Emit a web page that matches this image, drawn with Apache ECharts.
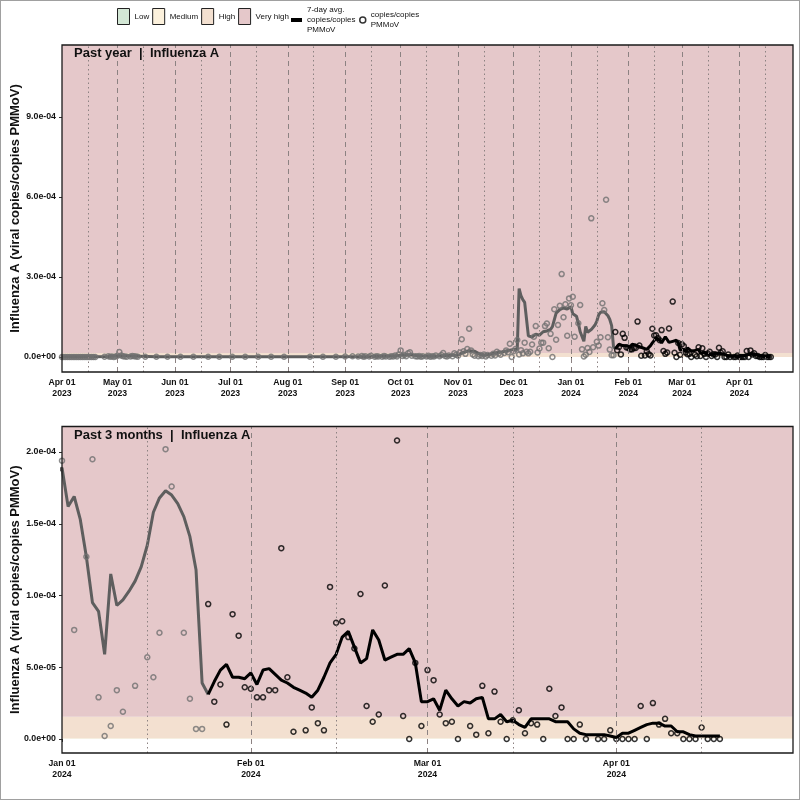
<!DOCTYPE html>
<html style="height: 100%">
<head>
<meta charset="utf-8">
</head>
<body style="height: 100%; margin: 0; background: #fff">
<div id="container" style="width: 800px; height: 800px; box-sizing: border-box; border: 1px solid #a0a0a0"></div>
<script type="text/javascript" src="https://cdn.jsdelivr.net/npm/echarts@6/dist/echarts.min.js"></script>
<script type="text/javascript">
// values are in units of 1e-5 viral copies / copies PMMoV
var UNIT = 1e-5;

var AVG_NAME = '7-day avg.\ncopies/copies\nPMMoV';
var PTS_NAME = 'copies/copies\nPMMoV';

var bandNames = ['Low', 'Medium', 'High', 'Very high'];
var bandColors = ['#d3e7d5', '#fcf1dc', '#f3e0d0', '#e5c8ca'];
var bandEdges = [0, 0.01, 0.05, 1.55]; // lower edge of each band

// month ticks
var yearTicks = ['2023-04-01', '2023-05-01', '2023-06-01', '2023-07-01', '2023-08-01', '2023-09-01',
  '2023-10-01', '2023-11-01', '2023-12-01', '2024-01-01', '2024-02-01', '2024-03-01', '2024-04-01'];
var yearMid = ['2023-04-15', '2023-05-15', '2023-06-15', '2023-07-15', '2023-08-15', '2023-09-15',
  '2023-10-15', '2023-11-15', '2023-12-15', '2024-01-15', '2024-02-15', '2024-03-15', '2024-04-15'];
var qTicks = ['2024-01-01', '2024-02-01', '2024-03-01', '2024-04-01'];
var qMid = ['2024-01-15', '2024-02-15', '2024-03-15', '2024-04-15'];

var yearYTicks = [0, 30, 60, 90];
var qYTicks = [0, 5, 10, 15, 20];

// samples before the latest period (gray)
var grayPts = [
  ['2023-04-01', 0], ['2023-04-02', 0], ['2023-04-03', 0], ['2023-04-04', 0], ['2023-04-05', 0],
  ['2023-04-06', 0], ['2023-04-07', 0], ['2023-04-08', 0], ['2023-04-09', 0], ['2023-04-10', 0],
  ['2023-04-11', 0], ['2023-04-12', 0], ['2023-04-13', 0], ['2023-04-14', 0], ['2023-04-15', 0],
  ['2023-04-16', 0], ['2023-04-17', 0], ['2023-04-18', 0], ['2023-04-19', 0],
  ['2023-04-24', 0.1], ['2023-04-26', 0.3], ['2023-04-27', 0.1], ['2023-04-28', 0.2], ['2023-04-29', 0],
  ['2023-04-30', 0.2], ['2023-05-01', 0.5], ['2023-05-02', 1.9], ['2023-05-03', 0.6], ['2023-05-04', 0.3],
  ['2023-05-05', 0.2], ['2023-05-06', 0.1], ['2023-05-08', 0.2], ['2023-05-09', 0.4], ['2023-05-10', 0.3],
  ['2023-05-11', 0.2], ['2023-05-12', 0.1],
  ['2023-05-16', 0.1], ['2023-05-22', 0.1], ['2023-05-28', 0.1], ['2023-06-04', 0.1], ['2023-06-11', 0.1],
  ['2023-06-19', 0.1], ['2023-06-25', 0.1], ['2023-07-02', 0.1], ['2023-07-09', 0.1], ['2023-07-16', 0.1],
  ['2023-07-23', 0.1], ['2023-07-30', 0.1], ['2023-08-13', 0.1], ['2023-08-20', 0.1], ['2023-08-27', 0.1],
  ['2023-09-01', 0.2], ['2023-09-05', 0.3], ['2023-09-08', 0.2], ['2023-09-10', 0.4], ['2023-09-11', 0.1],
  ['2023-09-12', 0.3], ['2023-09-14', 0.2], ['2023-09-15', 0.5], ['2023-09-17', 0.1], ['2023-09-18', 0.3],
  ['2023-09-19', 0.2], ['2023-09-21', 0.1], ['2023-09-22', 0.4], ['2023-09-23', 0.2], ['2023-09-25', 0.1],
  ['2023-09-26', 0.3], ['2023-09-27', 0.2], ['2023-09-28', 0.6], ['2023-09-29', 0.2], ['2023-09-30', 1.0],
  ['2023-10-01', 2.5], ['2023-10-02', 0.4], ['2023-10-03', 0.8], ['2023-10-04', 0.3], ['2023-10-05', 1.4],
  ['2023-10-06', 1.8], ['2023-10-07', 0.5], ['2023-10-09', 0.3], ['2023-10-10', 0.2], ['2023-10-11', 0.4],
  ['2023-10-12', 0.1], ['2023-10-13', 0.3], ['2023-10-15', 0.2], ['2023-10-16', 0.5], ['2023-10-17', 0.1],
  ['2023-10-18', 0.3], ['2023-10-19', 0.2], ['2023-10-20', 0.6], ['2023-10-22', 0.3], ['2023-10-23', 0.8],
  ['2023-10-24', 1.5], ['2023-10-25', 0.4], ['2023-10-26', 0.2], ['2023-10-27', 0.6], ['2023-10-29', 0.3],
  ['2023-10-30', 1.4], ['2023-10-31', 0.9], ['2023-11-01', 0.5], ['2023-11-02', 1.7], ['2023-11-03', 6.7],
  ['2023-11-04', 2.2], ['2023-11-05', 1.2], ['2023-11-06', 3.0], ['2023-11-07', 10.6], ['2023-11-08', 2.5],
  ['2023-11-09', 1.0], ['2023-11-10', 0.5], ['2023-11-12', 0.3], ['2023-11-13', 0.8], ['2023-11-14', 0.4],
  ['2023-11-15', 1.0], ['2023-11-16', 0.2], ['2023-11-17', 0.8], ['2023-11-19', 0.5], ['2023-11-20', 1.2],
  ['2023-11-21', 0.6], ['2023-11-22', 2.0], ['2023-11-23', 1.4], ['2023-11-24', 0.9], ['2023-11-26', 1.5],
  ['2023-11-27', 2.5], ['2023-11-28', 1.8], ['2023-11-29', 5.0], ['2023-11-30', 0], ['2023-12-01', 2.2],
  ['2023-12-02', 3.0], ['2023-12-03', 6.4], ['2023-12-04', 1.0], ['2023-12-05', 2.6], ['2023-12-06', 1.4],
  ['2023-12-07', 5.4], ['2023-12-08', 2.0], ['2023-12-09', 1.4], ['2023-12-10', 2.0], ['2023-12-11', 4.7],
  ['2023-12-12', 7.6], ['2023-12-13', 11.6], ['2023-12-14', 1.7], ['2023-12-15', 3.2], ['2023-12-16', 5.4],
  ['2023-12-17', 5.4], ['2023-12-18', 11.6], ['2023-12-19', 12.6], ['2023-12-20', 3.3], ['2023-12-21', 8.7],
  ['2023-12-22', 0], ['2023-12-23', 17.9], ['2023-12-24', 6.5], ['2023-12-25', 12.0], ['2023-12-26', 19.2],
  ['2023-12-27', 31.1], ['2023-12-28', 14.9], ['2023-12-29', 19.8], ['2023-12-30', 8.0], ['2023-12-31', 22.0],
  ['2024-01-01', 19.4], ['2024-01-02', 22.6], ['2024-01-03', 7.6], ['2024-01-05', 12.7], ['2024-01-06', 19.5],
  ['2024-01-07', 2.9], ['2024-01-08', 0.2], ['2024-01-09', 0.9], ['2024-01-10', 3.4], ['2024-01-11', 1.9],
  ['2024-01-12', 52.0], ['2024-01-13', 3.7], ['2024-01-15', 5.7], ['2024-01-16', 4.3], ['2024-01-17', 7.4],
  ['2024-01-18', 20.2], ['2024-01-19', 17.6], ['2024-01-20', 59.0], ['2024-01-21', 7.4], ['2024-01-22', 2.8],
  ['2024-01-23', 0.7], ['2024-01-24', 0.7]
];

var grayAvg = [
  ['2023-04-01', 0.1], ['2023-04-19', 0.1], ['2023-04-26', 0.2], ['2023-05-02', 0.5], ['2023-05-12', 0.3],
  ['2023-05-22', 0.1], ['2023-08-27', 0.1], ['2023-09-15', 0.2], ['2023-09-28', 0.4], ['2023-10-02', 0.8],
  ['2023-10-06', 0.9], ['2023-10-12', 0.4], ['2023-10-20', 0.3], ['2023-10-26', 0.6], ['2023-11-01', 0.8],
  ['2023-11-04', 1.8], ['2023-11-07', 2.4], ['2023-11-10', 2.2], ['2023-11-13', 1.0], ['2023-11-17', 0.9],
  ['2023-11-21', 1.5], ['2023-11-25', 2.0], ['2023-11-29', 2.6], ['2023-12-03', 3.0], ['2023-12-04', 25.7],
  ['2023-12-05', 23.0], ['2023-12-06', 21.5], ['2023-12-07', 20.5], ['2023-12-08', 20.0], ['2023-12-09', 8.0],
  ['2023-12-11', 7.5], ['2023-12-13', 8.6], ['2023-12-15', 8.2], ['2023-12-17', 9.5], ['2023-12-19', 9.8],
  ['2023-12-21', 10.4], ['2023-12-22', 11.4], ['2023-12-24', 16.5], ['2023-12-26', 17.8], ['2023-12-28', 18.4],
  ['2023-12-30', 18.0], ['2023-12-31', 18.5],
  ['2024-01-01', 18.9], ['2024-01-02', 16.2], ['2024-01-03', 16.9], ['2024-01-04', 15.3], ['2024-01-05', 12.7],
  ['2024-01-06', 9.5], ['2024-01-07', 8.9], ['2024-01-08', 5.9], ['2024-01-09', 11.5], ['2024-01-10', 9.3],
  ['2024-01-11', 9.7], ['2024-01-12', 10.3], ['2024-01-13', 11.0], ['2024-01-14', 12.0], ['2024-01-15', 13.5],
  ['2024-01-16', 15.8], ['2024-01-17', 16.8], ['2024-01-18', 17.3], ['2024-01-19', 17.0], ['2024-01-20', 16.4],
  ['2024-01-21', 15.5], ['2024-01-22', 14.1], ['2024-01-23', 11.8], ['2024-01-24', 3.9], ['2024-01-25', 3.1]
];

// latest period (black)
var blackPts = [
  ['2024-01-25', 9.4], ['2024-01-26', 2.6], ['2024-01-27', 3.8], ['2024-01-28', 1.0], ['2024-01-29', 8.7],
  ['2024-01-30', 7.2], ['2024-01-31', 3.6], ['2024-02-01', 3.5], ['2024-02-02', 2.9], ['2024-02-03', 2.9],
  ['2024-02-04', 3.4], ['2024-02-05', 3.4], ['2024-02-06', 13.3], ['2024-02-07', 4.3], ['2024-02-08', 0.5],
  ['2024-02-10', 0.6], ['2024-02-11', 2.2], ['2024-02-12', 1.1], ['2024-02-13', 0.6], ['2024-02-14', 10.6],
  ['2024-02-15', 8.1], ['2024-02-16', 8.2], ['2024-02-17', 7.1], ['2024-02-18', 6.3], ['2024-02-19', 10.1],
  ['2024-02-20', 2.3], ['2024-02-21', 1.2], ['2024-02-22', 1.7], ['2024-02-23', 10.7], ['2024-02-25', 20.8],
  ['2024-02-26', 1.6], ['2024-02-27', 0], ['2024-02-28', 5.3], ['2024-02-29', 0.9], ['2024-03-01', 4.8],
  ['2024-03-02', 4.1], ['2024-03-03', 1.7], ['2024-03-04', 1.1], ['2024-03-05', 1.2], ['2024-03-06', 0],
  ['2024-03-08', 0.9], ['2024-03-09', 0.3], ['2024-03-10', 3.7], ['2024-03-11', 0.4], ['2024-03-12', 3.3],
  ['2024-03-13', 1.2], ['2024-03-14', 0], ['2024-03-15', 1.3], ['2024-03-16', 2.0], ['2024-03-17', 0.4],
  ['2024-03-18', 1.1], ['2024-03-19', 1.0], ['2024-03-20', 0], ['2024-03-21', 3.5], ['2024-03-22', 1.6],
  ['2024-03-23', 2.2], ['2024-03-24', 0], ['2024-03-25', 0], ['2024-03-26', 1.0], ['2024-03-27', 0],
  ['2024-03-29', 0], ['2024-03-30', 0], ['2024-03-31', 0.6], ['2024-04-01', 0], ['2024-04-02', 0],
  ['2024-04-03', 0], ['2024-04-04', 0], ['2024-04-05', 2.3], ['2024-04-06', 0], ['2024-04-07', 2.5],
  ['2024-04-08', 1.0], ['2024-04-09', 1.4], ['2024-04-10', 0.4], ['2024-04-11', 0.4], ['2024-04-12', 0],
  ['2024-04-13', 0], ['2024-04-14', 0], ['2024-04-15', 0.8], ['2024-04-16', 0], ['2024-04-17', 0],
  ['2024-04-18', 0]
];

var blackAvg = [
  ['2024-01-25', 3.1], ['2024-01-26', 4.0], ['2024-01-27', 4.8], ['2024-01-28', 5.2], ['2024-01-29', 4.3],
  ['2024-01-30', 4.3], ['2024-01-31', 4.2], ['2024-02-01', 4.6], ['2024-02-02', 3.8], ['2024-02-03', 4.8],
  ['2024-02-04', 4.9], ['2024-02-05', 4.5], ['2024-02-06', 4.1], ['2024-02-07', 3.9], ['2024-02-08', 3.6],
  ['2024-02-09', 3.4], ['2024-02-10', 3.2], ['2024-02-11', 2.9], ['2024-02-12', 3.4], ['2024-02-13', 4.3],
  ['2024-02-14', 5.3], ['2024-02-15', 5.9], ['2024-02-16', 7.1], ['2024-02-17', 7.5], ['2024-02-18', 6.4],
  ['2024-02-19', 5.3], ['2024-02-20', 5.6], ['2024-02-21', 7.6], ['2024-02-22', 6.9], ['2024-02-23', 5.5],
  ['2024-02-24', 5.7], ['2024-02-25', 5.9], ['2024-02-26', 5.9], ['2024-02-27', 6.3], ['2024-02-28', 5.3],
  ['2024-02-29', 2.6], ['2024-03-01', 2.6], ['2024-03-02', 2.8], ['2024-03-03', 2.0], ['2024-03-04', 3.4],
  ['2024-03-05', 2.8], ['2024-03-06', 2.3], ['2024-03-07', 2.6], ['2024-03-08', 2.5], ['2024-03-09', 2.8],
  ['2024-03-10', 2.9], ['2024-03-11', 1.4], ['2024-03-12', 1.4], ['2024-03-13', 1.7], ['2024-03-14', 1.2],
  ['2024-03-15', 1.3], ['2024-03-16', 1.0], ['2024-03-17', 0.8], ['2024-03-18', 1.4], ['2024-03-19', 1.4],
  ['2024-03-20', 1.4], ['2024-03-21', 1.4], ['2024-03-22', 1.2], ['2024-03-23', 1.2], ['2024-03-24', 1.2],
  ['2024-03-25', 0.7], ['2024-03-26', 0.4], ['2024-03-27', 0.3], ['2024-03-28', 0.3], ['2024-03-29', 0.3],
  ['2024-03-30', 0.3], ['2024-03-31', 0.2], ['2024-04-01', 0.1], ['2024-04-02', 0.4], ['2024-04-03', 0.4],
  ['2024-04-04', 0.6], ['2024-04-05', 0.8], ['2024-04-06', 1.0], ['2024-04-07', 1.1], ['2024-04-08', 1.1],
  ['2024-04-09', 0.9], ['2024-04-10', 0.9], ['2024-04-11', 0.5], ['2024-04-12', 0.5], ['2024-04-13', 0.3],
  ['2024-04-14', 0.2], ['2024-04-15', 0.2], ['2024-04-16', 0.2], ['2024-04-17', 0.2], ['2024-04-18', 0.2]
];

var FONT = "'Liberation Sans', Arial, sans-serif";
var MON = ['Jan', 'Feb', 'Mar', 'Apr', 'May', 'Jun', 'Jul', 'Aug', 'Sep', 'Oct', 'Nov', 'Dec'];

function ts(s) {
  var p = s.split('-').map(Number);
  return new Date(p[0], p[1] - 1, p[2]).getTime();
}
function pts(arr) {
  return arr.map(function (d) { return [ts(d[0]), d[1]]; });
}
function dateLabel(v) {
  var d = new Date(v);
  return MON[d.getMonth()] + ' ' + String(d.getDate()).padStart(2, '0') + '\n' + d.getFullYear();
}
function sciLabel(v) {
  return (v * UNIT).toExponential(1).replace(/e([+-])(\d)$/, 'e$10$2');
}

var dom = document.getElementById('container');
var myChart = echarts.init(dom);

var panels = [
  { title: 'Past year  |  Influenza A', top: 44, height: 327, xMin: '2023-04-01', xMax: '2024-04-30',
    yMin: -5.6, yMax: 117, ticks: yearTicks, mid: yearMid, yTicks: yearYTicks },
  { title: 'Past 3 months  |  Influenza A', top: 425.5, height: 326.5, xMin: '2024-01-01', xMax: '2024-04-30',
    yMin: -0.98, yMax: 21.78, ticks: qTicks, mid: qMid, yTicks: qYTicks }
];

var grids = [], xAxes = [], yAxes = [], titles = [], series = [];

panels.forEach(function (p, i) {
  grids.push({
    left: 61, top: p.top, width: 731, height: p.height,
    containLabel: false, outerBoundsMode: 'none',
    show: true, z: 10, backgroundColor: 'transparent', borderColor: '#1a1a1a', borderWidth: 1.3
  });
  // dates are plotted as millisecond timestamps on a plain value axis
  xAxes.push({
    type: 'value', gridIndex: i, min: ts(p.xMin), max: ts(p.xMax), scale: true,
    axisLine: { show: false },
    axisTick: { show: true, length: 3, customValues: p.ticks.map(ts), lineStyle: { color: '#333' } },
    splitLine: { show: false },
    axisLabel: {
      customValues: p.ticks.map(ts), formatter: dateLabel, margin: 5,
      fontFamily: FONT, fontWeight: 'bold', fontSize: 8.7, lineHeight: 11, color: '#111'
    }
  });
  yAxes.push({
    type: 'value', gridIndex: i, min: p.yMin, max: p.yMax,
    name: 'Influenza A (viral copies/copies PMMoV)', nameLocation: 'middle', nameGap: 40,
    nameMoveOverlap: false,
    nameTextStyle: { fontFamily: FONT, fontWeight: 'bold', fontSize: 13, color: '#111' },
    axisLine: { show: false },
    axisTick: { show: true, length: 3, customValues: p.yTicks, lineStyle: { color: '#333' } },
    splitLine: { show: false },
    axisLabel: {
      customValues: p.yTicks, formatter: sciLabel, margin: 6,
      fontFamily: FONT, fontWeight: 'bold', fontSize: 8.8, color: '#111'
    }
  });
  titles.push({
    text: p.title, left: 73, top: p.top + 2, padding: 0,
    textStyle: { fontFamily: FONT, fontWeight: 'bold', fontSize: 13, color: '#111' }
  });

  var bandData = bandNames.map(function (n, k) {
    var hi = k < bandNames.length - 1 ? bandEdges[k + 1] : p.yMax;
    return [{ yAxis: bandEdges[k], itemStyle: { color: bandColors[k] } }, { yAxis: hi }];
  });
  var vlines = p.ticks.slice(1).map(function (t) {
    return { xAxis: ts(t), lineStyle: { type: [5, 4], color: '#8c8282', width: 1 } };
  }).concat(p.mid.map(function (t) {
    return { xAxis: ts(t), lineStyle: { type: [1.5, 3], color: '#8c8282', width: 1 } };
  }));

  series.push(
    { type: 'line', xAxisIndex: i, yAxisIndex: i, data: [], z: 0, silent: true,
      markArea: { silent: true, data: bandData } },
    { type: 'line', xAxisIndex: i, yAxisIndex: i, data: [], z: 1, silent: true,
      markLine: { silent: true, symbol: ['none', 'none'], label: { show: false }, data: vlines } },
    { type: 'line', name: 'gray avg', xAxisIndex: i, yAxisIndex: i, data: pts(grayAvg), showSymbol: false,
      color: '#5e5e5e', lineStyle: { color: '#5e5e5e', width: 3 }, z: 3 },
    { type: 'line', name: AVG_NAME, xAxisIndex: i, yAxisIndex: i, data: pts(blackAvg), showSymbol: false,
      color: '#000', lineStyle: { color: '#000', width: 3 }, z: 3 },
    { type: 'scatter', name: 'gray pts', xAxisIndex: i, yAxisIndex: i, data: pts(grayPts),
      symbol: 'circle', symbolSize: 5,
      itemStyle: { color: 'rgba(0,0,0,0)', borderColor: '#707070', borderWidth: 1.5 }, z: 4 },
    { type: 'scatter', name: PTS_NAME, xAxisIndex: i, yAxisIndex: i, data: pts(blackPts),
      symbol: 'circle', symbolSize: 5,
      itemStyle: { color: 'rgba(0,0,0,0)', borderColor: '#000', borderWidth: 1.5 }, z: 4 }
  );
});

// legend-only series for the level bands
bandNames.forEach(function (n, k) {
  series.push({ type: 'bar', name: n, xAxisIndex: 0, yAxisIndex: 0, data: [], color: bandColors[k] });
});

var legendText = { fontFamily: FONT, fontSize: 8, lineHeight: 10, color: '#111' };

var option = {
  animation: false,
  title: titles,
  grid: grids,
  xAxis: xAxes,
  yAxis: yAxes,
  legend: [
    { left: 116, top: 7, padding: 0, itemWidth: 12, itemHeight: 16, itemGap: 3, icon: 'rect',
      selectedMode: false, itemStyle: { borderColor: '#222', borderWidth: 1 },
      textStyle: legendText, data: bandNames },
    { left: 290, top: 4, padding: 0, itemWidth: 11, itemHeight: 4, icon: 'rect', selectedMode: false,
      textStyle: legendText, data: [AVG_NAME] },
    { left: 358, top: 9, padding: 0, itemWidth: 6, itemHeight: 6, icon: 'circle', selectedMode: false,
      textStyle: legendText,
      data: [{ name: PTS_NAME, itemStyle: { color: 'rgba(0,0,0,0)', borderColor: '#000', borderWidth: 1.5 } }] }
  ],
  series: series
};

myChart.setOption(option);
</script>
</body>
</html>
